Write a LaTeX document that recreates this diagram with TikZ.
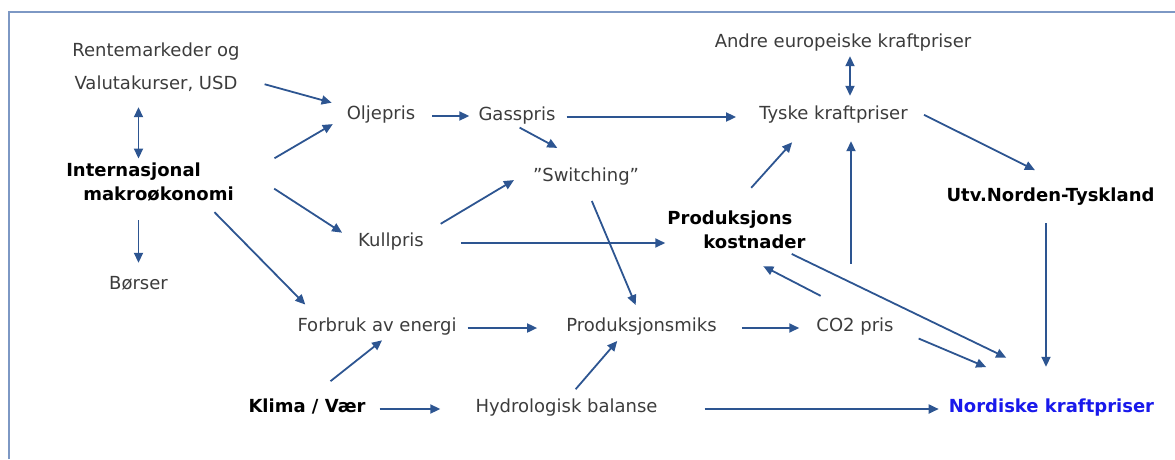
\documentclass[tikz,border=0pt]{standalone}
\usepackage{fontspec}
\setmainfont{DejaVu Sans}
\usepackage{tikz}
\usetikzlibrary{arrows.meta}
\definecolor{textgray}{RGB}{60,60,60}
\definecolor{arrowblue}{RGB}{45,85,145}
\definecolor{framecol}{RGB}{125,152,196}
\definecolor{nordblue}{RGB}{25,25,235}
\tikzset{>=stealth}
\tikzset{%
    txt/.style={inner sep=0pt, font=\fontsize{18}{24}\selectfont, text=textgray},
    one/.style={txt, text height=12pt, text depth=6pt},
    key/.style={one, font=\fontsize{18}{24}\selectfont\bfseries, text=black},
    keytwo/.style={txt, align=left, font=\fontsize{18}{24}\selectfont\bfseries, text=black},
    link/.style={-{Triangle[length=10pt,width=9pt]}, line width=1.8pt, draw=arrowblue},
    twoway/.style={{Triangle[length=10pt,width=9pt]}-{Triangle[length=10pt,width=9pt]}, line width=1.8pt, draw=arrowblue}
}

\begin{document}
\begin{tikzpicture}[x=1pt,y=-1pt]
\useasboundingbox (0,0) rectangle (1175,459);
\draw[framecol,line width=2.5pt] (9,459) -- (9,12) -- (1175,12);

\node[one] (rente) at (156,53) {Rentemarkeder og};
\node[one] (valuta) at (156,86) {Valutakurser, USD};
\node[keytwo] (makro) at (150,182) {Internasjonal\\\hspace*{17pt}makroøkonomi};
\node[one] (borser) at (138.5,286) {Børser};
\node[one] (olje) at (381,116) {Oljepris};
\node[one] (gass) at (517,117) {Gasspris};
\node[one] (switch) at (586,178) {”Switching”};
\node[one] (kull) at (391,243) {Kullpris};
\node[one] (andre) at (843,44) {Andre europeiske kraftpriser};
\node[one] (tyske) at (833.5,116) {Tyske kraftpriser};
\node[key] (utv) at (1050.5,198) {Utv.Norden-Tyskland};
\node[keytwo] (prodkost) at (736.5,230) {Produksjons\\\hspace*{36pt}kostnader};
\node[one] (forbruk) at (377,328) {Forbruk av energi};
\node[one] (prodmiks) at (641.5,328) {Produksjonsmiks};
\node[one] (co2) at (855,328) {CO2 pris};
\node[key] (klima) at (307,409) {Klima / Vær};
\node[one] (hydro) at (566.5,409) {Hydrologisk balanse};
\node[key,text=nordblue] (nordisk) at (1051.5,409) {Nordiske kraftpriser};

\draw[link,shorten <=28pt,shorten >=15.5pt] (valuta.north east) -- (olje.north west);
\draw[link,shorten <=47pt,shorten >=16pt] (makro.east) -- (olje.west);
\draw[twoway,shorten <=12pt,shorten >=4pt] (valuta.south -| borser) -- (makro.north -| borser);
\draw[link,shorten <=19pt,shorten >=14pt] (makro.south -| borser) -- (borser.north);
\draw[link,shorten <=48pt,shorten >=19pt] (makro.north east) -- (kull.west);
\draw[link,shorten <=15pt,shorten >=20pt] ([xshift=-30pt]makro.south east) -- ([xshift=22pt]forbruk.north west);

\draw[link,shorten <=17pt,shorten >=9pt] (olje.east) -- (olje.east -| gass.west);
\draw[link,shorten <=3pt,shorten >=44pt] (gass.south) -- ([xshift=10pt]switch.north);
\draw[link,shorten <=11pt,shorten >=23pt] (gass.east) -- (gass.east -| tyske.west);
\draw[link,shorten <=19.5pt,shorten >=22pt] (kull.north east) -- (switch.north west);
\draw[link,shorten <=37pt,shorten >=2pt] (kull.east) -- (kull.east -| prodkost.west);
\draw[link,shorten <=15pt,shorten >=15pt] (switch.south) -- (prodmiks.north);

\draw[link,shorten <=11pt,shorten >=29pt] (forbruk.east) -- (prodmiks.west);
\draw[link,shorten <=25pt,shorten >=17pt] (prodmiks.east) -- (co2.west);
\draw[link,shorten <=30pt,shorten >=5pt] (klima.north) -- ([xshift=9pt]forbruk.south);
\draw[link,shorten <=14pt,shorten >=35pt] (klima.east) -- (hydro.west);
\draw[link,shorten <=14pt,shorten >=5pt] (hydro.north) -- ([xshift=-21pt]prodmiks.south);
\draw[link,shorten <=47pt,shorten >=10pt] (hydro.east) -- (hydro.east -| nordisk.west);

\draw[link,shorten <=31pt,shorten >=23pt] ([xshift=-6pt]prodkost.north) -- ([xshift=-26pt]tyske.south);
\draw[twoway,shorten <=3pt,shorten >=11pt] ([xshift=7pt]andre.south) -- ([xshift=7pt]andre.south |- tyske.north);
\draw[link,shorten <=55pt,shorten >=16pt] ([xshift=-4pt]co2.north) -- ([xshift=-4pt]co2.north |- tyske.south);
\draw[link,shorten <=50pt,shorten >=37pt] ([xshift=10pt]co2.north) -- ([xshift=-6pt]prodkost.south);
\draw[link,shorten <=11pt,shorten >=97pt] ([xshift=-24pt]prodkost.south east) -- ([xshift=42pt]nordisk.north);
\draw[link,shorten <=27pt,shorten >=84pt] (co2.east) -- ([xshift=12pt]nordisk.north);
\draw[link,shorten <=18pt,shorten >=42pt] (tyske.north east) -- ([xshift=22pt]utv.north);
\draw[link,shorten <=16pt,shorten >=33pt] ([xshift=-4.5pt]utv.south) -- ([xshift=-4.5pt]utv.south |- nordisk.north);
\end{tikzpicture}
\end{document}
